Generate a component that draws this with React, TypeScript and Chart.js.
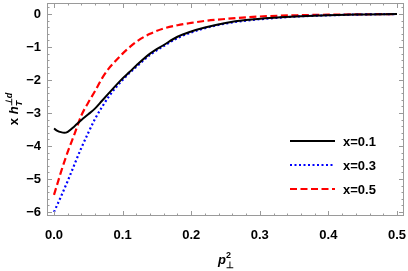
import React, { useEffect, useRef } from "react";
import { Chart, registerables } from "chart.js";
Chart.register(...registerables);

const pValues = [0, 0.005, 0.01, 0.015, 0.02, 0.03, 0.04, 0.05, 0.06, 0.07, 0.08, 0.09, 0.1, 0.11, 0.12, 0.14, 0.16, 0.18, 0.2, 0.22, 0.25, 0.28, 0.33, 0.36, 0.4, 0.45, 0.5];
const seriesX01 = [-3.47, -3.54, -3.58, -3.6, -3.57, -3.4, -3.21, -3.04, -2.86, -2.63, -2.4, -2.17, -1.95, -1.76, -1.56, -1.2, -0.94, -0.69, -0.53, -0.41, -0.27, -0.18, -0.1, -0.065, -0.035, -0.015, 0];
const seriesX03 = [-6.0, -5.77, -5.54, -5.3, -5.06, -4.55, -4.05, -3.6, -3.17, -2.82, -2.5, -2.23, -2.0, -1.79, -1.6, -1.24, -0.97, -0.73, -0.56, -0.43, -0.29, -0.2, -0.11, -0.07, -0.04, -0.015, 0];
const seriesX05 = [-5.48, -5.14, -4.8, -4.48, -4.18, -3.63, -3.07, -2.68, -2.33, -1.95, -1.65, -1.42, -1.2, -1.01, -0.84, -0.6, -0.44, -0.34, -0.27, -0.21, -0.15, -0.1, -0.05, -0.035, -0.02, -0.01, 0];
const seriesLabels = ["x=0.1", "x=0.3", "x=0.5"];
const xTickValues = [0, 0.1, 0.2, 0.3, 0.4, 0.5];
const yTickValues = [-6, -5, -4, -3, -2, -1, 0];

const FONT = "'Liberation Sans', Arial, sans-serif";
const FRAME = "#9a9a9a";

type Seg = { t: string; it?: boolean; size: number; dy: number; stack?: boolean };

function drawRich(ctx: CanvasRenderingContext2D, segs: Seg[], x: number, y: number) {
  const fontOf = (s: Seg) => `${s.it ? "italic " : ""}bold ${s.size}px ${FONT}`;
  const widths = segs.map((s) => {
    ctx.font = fontOf(s);
    return ctx.measureText(s.t).width;
  });
  let total = 0;
  let i = 0;
  while (i < segs.length) {
    if (segs[i].stack && i + 1 < segs.length) {
      total += Math.max(widths[i], widths[i + 1]);
      i += 2;
    } else {
      total += widths[i];
      i += 1;
    }
  }
  let cx = x - total / 2;
  i = 0;
  while (i < segs.length) {
    const s = segs[i];
    ctx.font = fontOf(s);
    ctx.fillText(s.t, cx, y + s.dy);
    if (s.stack && i + 1 < segs.length) {
      const n = segs[i + 1];
      ctx.font = fontOf(n);
      ctx.fillText(n.t, cx, y + n.dy);
      cx += Math.max(widths[i], widths[i + 1]);
      i += 2;
    } else {
      cx += widths[i];
      i += 1;
    }
  }
}

const framePlugin = {
  id: "framePlugin",
  afterDraw(chart: any) {
    const ctx: CanvasRenderingContext2D = chart.ctx;
    const { left, right, top, bottom } = chart.chartArea;
    const xs = chart.scales.x;
    const ys = chart.scales.y;
    ctx.save();
    ctx.strokeStyle = FRAME;
    ctx.lineWidth = 1;
    ctx.strokeRect(left + 0.5, top + 0.5, right - left - 1, bottom - top - 1);
    for (let k = 0; k <= 25; k++) {
      const v = k * 0.02;
      const px = Math.round(xs.getPixelForValue(v)) + 0.5;
      const len = k % 5 === 0 ? 5 : 2.5;
      ctx.beginPath();
      ctx.moveTo(px, bottom);
      ctx.lineTo(px, bottom - len);
      ctx.moveTo(px, top);
      ctx.lineTo(px, top + len);
      ctx.stroke();
    }
    for (let k = -30; k <= 1; k++) {
      const v = k * 0.2;
      const py = Math.round(ys.getPixelForValue(v)) + 0.5;
      const len = k % 5 === 0 ? 5 : 2.5;
      ctx.beginPath();
      ctx.moveTo(left, py);
      ctx.lineTo(left + len, py);
      ctx.moveTo(right, py);
      ctx.lineTo(right - len, py);
      ctx.stroke();
    }
    const legendY = [141, 165, 189];
    chart.data.datasets.forEach((ds: any, idx: number) => {
      const y = legendY[idx];
      ctx.save();
      ctx.strokeStyle = ds.borderColor;
      ctx.lineWidth = ds.borderWidth;
      ctx.setLineDash(ds.borderDash || []);
      ctx.beginPath();
      ctx.moveTo(290, y);
      ctx.lineTo(335, y);
      ctx.stroke();
      ctx.restore();
      ctx.fillStyle = "#000";
      ctx.font = `bold 13px ${FONT}`;
      ctx.textBaseline = "middle";
      ctx.textAlign = "left";
      ctx.fillText(ds.label, 343, y + 1);
    });
    ctx.fillStyle = "#000";
    ctx.textAlign = "left";
    ctx.textBaseline = "alphabetic";
    drawRich(
      ctx,
      [
        { t: "p", it: true, size: 13, dy: 0 },
        { t: "⊥", size: 9, dy: 4, stack: true },
        { t: "2", size: 9, dy: -6 },
      ],
      226,
      264
    );
    ctx.save();
    ctx.translate(18, 109);
    ctx.rotate(-Math.PI / 2);
    drawRich(
      ctx,
      [
        { t: "x ", size: 13, dy: 0 },
        { t: "h", it: true, size: 13, dy: 0 },
        { t: "T", it: true, size: 9, dy: 4, stack: true },
        { t: "⊥d", it: true, size: 9, dy: -6 },
      ],
      0,
      0
    );
    ctx.restore();
    ctx.restore();
  },
};

function toPoints(ys: number[]) {
  return pValues.map((p, i) => ({ x: p, y: ys[i] }));
}

export default function App() {
  const ref = useRef<HTMLCanvasElement | null>(null);
  useEffect(() => {
    document.body.style.margin = "0";
    if (!ref.current) return;
    const chart = new Chart(ref.current, {
      type: "line",
      data: {
        datasets: [
          { label: seriesLabels[0], data: toPoints(seriesX01), borderColor: "#000000", borderWidth: 2, borderDash: [], pointRadius: 0, fill: false, cubicInterpolationMode: "monotone" },
          { label: seriesLabels[1], data: toPoints(seriesX03), borderColor: "#0000ff", borderWidth: 2.2, borderDash: [2, 2.5], pointRadius: 0, fill: false, cubicInterpolationMode: "monotone" },
          { label: seriesLabels[2], data: toPoints(seriesX05), borderColor: "#ff0000", borderWidth: 2.2, borderDash: [7, 3.5], pointRadius: 0, fill: false, cubicInterpolationMode: "monotone" },
        ],
      } as any,
      options: {
        responsive: false,
        animation: false,
        devicePixelRatio: 1,
        layout: { padding: { top: 3, right: 4, left: 0, bottom: 0 } },
        plugins: { legend: { display: false }, tooltip: { enabled: false } },
        scales: {
          x: {
            type: "linear",
            min: -0.0102,
            max: 0.5102,
            afterFit: (s: any) => { s.height = 55; s.paddingLeft = 0; s.paddingRight = 0; },
            afterBuildTicks: (s: any) => { s.ticks = xTickValues.map((v) => ({ value: v })); },
            grid: { display: false, drawTicks: false },
            border: { display: false },
            ticks: {
              padding: 12,
              color: "#000",
              font: { family: FONT, size: 13, weight: "bold" },
              maxRotation: 0,
              callback: (v: any) => Number(v).toFixed(1),
            },
          },
          y: {
            type: "linear",
            min: -6.121,
            max: 0.333,
            afterFit: (s: any) => { s.width = 47; s.paddingTop = 0; s.paddingBottom = 0; },
            afterBuildTicks: (s: any) => { s.ticks = yTickValues.map((v) => ({ value: v })); },
            grid: { display: false, drawTicks: false },
            border: { display: false },
            ticks: {
              padding: 6,
              color: "#000",
              font: { family: FONT, size: 13, weight: "bold" },
              callback: (v: any) => (Number(v) < 0 ? "\u2212" + Math.abs(Number(v)) : "0"),
            },
          },
        },
      } as any,
      plugins: [framePlugin],
    });
    return () => chart.destroy();
  }, []);
  return (
    <div style={{ width: 408, height: 271 }}>
      <canvas ref={ref} width={408} height={271} style={{ display: "block", width: 408, height: 271 }} />
    </div>
  );
}
